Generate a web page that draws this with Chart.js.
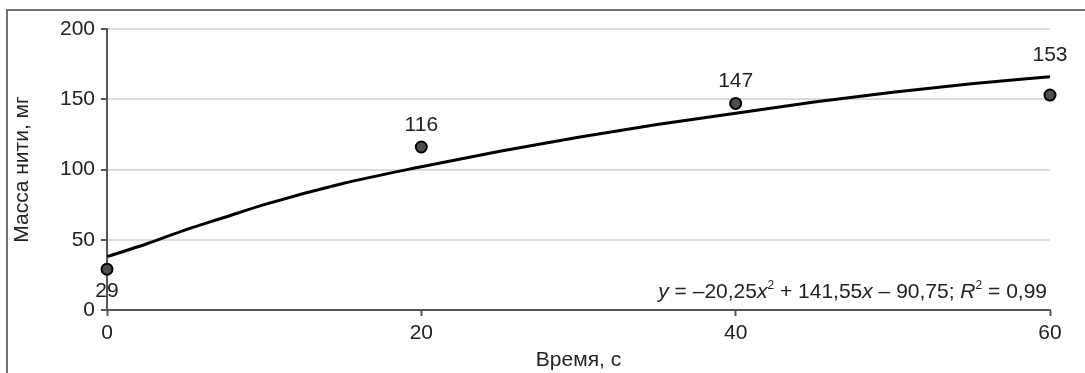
<!DOCTYPE html>
<html>
<head>
<meta charset="utf-8">
<script src="https://cdn.jsdelivr.net/npm/chart.js@4"></script>
<style>
    body { margin: 0; background: #fff; }
    canvas { display: block; }
</style>
</head>
<body>
<canvas id="chart" width="1085" height="373"></canvas>
<script>
// measured points
const timeValues = [0, 20, 40, 60];
const massValues = [29, 116, 147, 153];

// trend curve
const trendX = [0, 2.5, 5, 7.5, 10, 15, 20, 25, 30, 35, 40, 45, 50, 55, 60];
const trendY = [38, 47, 57, 66, 75, 90, 102, 113, 123, 132, 140, 148, 155, 161, 166];

const xTicks = [0, 20, 40, 60];
const yTicks = [0, 50, 100, 150, 200];

const FONT = "'Liberation Sans', Arial, sans-serif";
const FS = 21;
const TEXT = '#222';
const AXIS = '#555';

/**
 * frame lines at top and left of the picture
 */
const framePlugin = {
    id: 'frame',
    beforeDraw(chart) {
        const ctx = chart.ctx;
        ctx.save();
        ctx.strokeStyle = '#444';
        ctx.lineWidth = 1.5;
        ctx.beginPath();
        ctx.moveTo(7, chart.height);
        ctx.lineTo(7, 10);
        ctx.lineTo(chart.width, 10);
        ctx.stroke();
        ctx.restore();
    }
};

/**
 * value labels next to the measured points
 */
const pointLabelsPlugin = {
    id: 'pointLabels',
    afterDatasetsDraw(chart, args, opts) {
        const ctx = chart.ctx;
        const meta = chart.getDatasetMeta(1);
        ctx.save();
        ctx.font = FS + 'px ' + FONT;
        ctx.fillStyle = TEXT;
        ctx.textAlign = 'center';
        ctx.textBaseline = 'middle';
        meta.data.forEach((el, i) => {
            ctx.fillText(String(massValues[i]), el.x, el.y + opts.offsets[i]);
        });
        ctx.restore();
    }
};

/**
 * regression equation with italic variables and superscripts
 */
const equationPlugin = {
    id: 'equation',
    afterDraw(chart) {
        const ctx = chart.ctx;
        const normal = FS + 'px ' + FONT;
        const italic = 'italic ' + FS + 'px ' + FONT;
        const small = '12px ' + FONT;
        const parts = [
            { t: 'y', f: italic },
            { t: ' = \u201320,25', f: normal },
            { t: 'x', f: italic },
            { t: '2', f: small, sup: true },
            { t: ' + 141,55', f: normal },
            { t: 'x', f: italic },
            { t: ' \u2013 90,75; ', f: normal },
            { t: 'R', f: italic },
            { t: '2', f: small, sup: true },
            { t: ' = 0,99', f: normal }
        ];
        ctx.save();
        let total = 0;
        parts.forEach(p => {
            ctx.font = p.f;
            p.w = ctx.measureText(p.t).width;
            total += p.w;
        });
        let x = chart.chartArea.right - 3 - total;
        const y = chart.chartArea.bottom - 18;
        ctx.fillStyle = TEXT;
        ctx.textBaseline = 'middle';
        parts.forEach(p => {
            ctx.font = p.f;
            ctx.fillText(p.t, x, p.sup ? y - 6 : y);
            x += p.w;
        });
        ctx.restore();
    }
};

const ctx = document.getElementById('chart').getContext('2d');
new Chart(ctx, {
    type: 'scatter',
    data: {
        datasets: [
            {
                label: 'trend',
                data: trendX.map((x, i) => ({ x: x, y: trendY[i] })),
                showLine: true,
                borderColor: '#000',
                borderWidth: 3,
                pointRadius: 0,
                cubicInterpolationMode: 'monotone'
            },
            {
                label: 'mass',
                data: timeValues.map((x, i) => ({ x: x, y: massValues[i] })),
                clip: false,
                pointRadius: 5.5,
                pointBackgroundColor: '#4d4d4d',
                pointBorderColor: '#000',
                pointBorderWidth: 2
            }
        ]
    },
    options: {
        responsive: false,
        devicePixelRatio: 1,
        animation: false,
        layout: { padding: { top: 29, right: 35, left: 0, bottom: 0 } },
        plugins: {
            legend: { display: false },
            tooltip: { enabled: false },
            pointLabels: { offsets: [22, -22, -22, -40] }
        },
        scales: {
            x: {
                type: 'linear',
                min: 0,
                max: 60,
                afterBuildTicks: scale => { scale.ticks = xTicks.map(v => ({ value: v })); },
                afterFit: scale => { scale.height = 63; },
                ticks: { font: { family: FONT, size: FS }, color: TEXT, padding: 5 },
                grid: { drawOnChartArea: false, tickLength: 6, tickColor: AXIS, tickWidth: 2 },
                border: { color: AXIS, width: 2 },
                title: {
                    display: true,
                    text: 'Время, с',
                    font: { family: FONT, size: FS },
                    color: TEXT,
                    padding: { top: 0, bottom: 0 }
                }
            },
            y: {
                min: 0,
                max: 200,
                afterBuildTicks: scale => { scale.ticks = yTicks.map(v => ({ value: v })); },
                afterFit: scale => { scale.width = 107; },
                ticks: { font: { family: FONT, size: FS }, color: TEXT, padding: 6 },
                grid: { color: '#dcdcdc', lineWidth: 2, tickLength: 6, tickColor: AXIS, tickWidth: 2 },
                border: { color: AXIS, width: 2 },
                title: {
                    display: true,
                    text: 'Масса нити, мг',
                    font: { family: FONT, size: FS },
                    color: TEXT,
                    padding: { top: 10, bottom: 0 }
                }
            }
        }
    },
    plugins: [framePlugin, pointLabelsPlugin, equationPlugin]
});
</script>
</body>
</html>
